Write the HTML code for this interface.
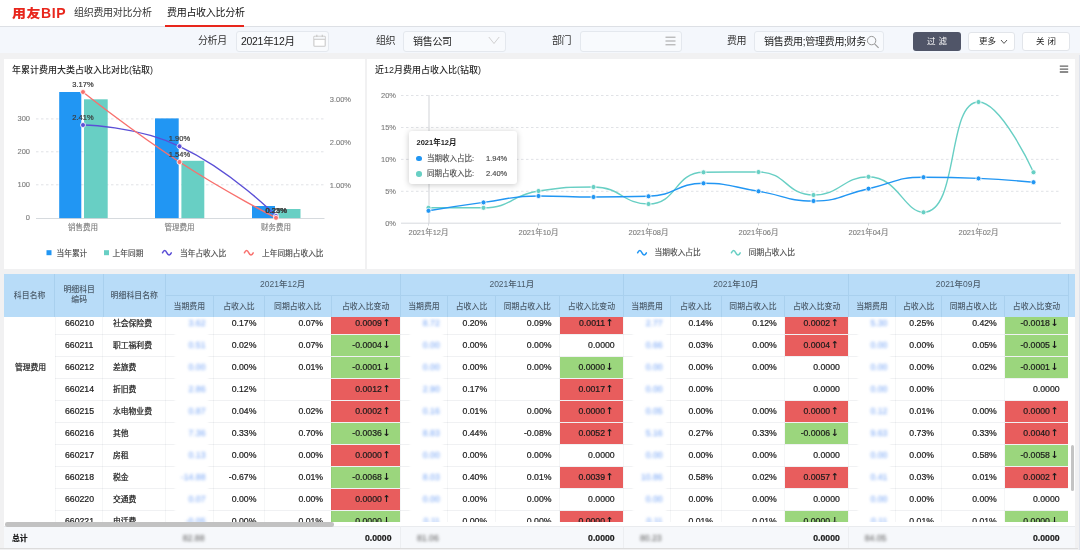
<!DOCTYPE html><html lang="zh"><head><meta charset="utf-8"><title>费用占收入比分析</title><style>
*{box-sizing:border-box;margin:0;padding:0}
html,body{width:1080px;height:550px;overflow:hidden;background:#f1f1f2;font-family:"Liberation Sans","Noto Sans CJK SC",sans-serif;color:#333}
.abs{position:absolute}
#top{left:0;top:0;width:1080px;height:26.6px;background:#fff;border-bottom:1px solid #dde0e5}
#logo{left:12px;top:3px;font-size:14px;font-weight:bold;color:#e8261c;letter-spacing:0.55px;line-height:20px}
.tab{top:4px;font-size:10px;line-height:18px;color:#333;letter-spacing:-0.3px;white-space:nowrap}
#tabline{left:165px;top:25px;width:79px;height:2px;background:#e8261c}
#fbar{left:0;top:26.6px;width:1080px;height:26.7px;background:#f4f7fc}
.flabel{top:32px;font-size:10px;line-height:18px;color:#333;letter-spacing:-0.4px;white-space:nowrap}
.finput{top:31px;height:20.6px;background:#f8fafd;border:1px solid #e4e8ee;border-radius:3px;font-size:10px;line-height:19.6px;color:#222;white-space:nowrap;overflow:hidden;letter-spacing:-0.3px}
.btn{top:32.2px;height:18.8px;border-radius:3px;font-size:8.5px;line-height:18px;text-align:center;white-space:nowrap}
.panel{background:#fff}
.ptitle{font-size:9px;font-weight:500;color:#2a2a2a;line-height:12px;white-space:nowrap}
svg text{font-family:"Liberation Sans","Noto Sans CJK SC",sans-serif;font-size:7.5px}
.ax{fill:#7d7d7d;stroke:#7d7d7d;stroke-width:.12px}
.lb{fill:#3c3c3c;stroke:#3c3c3c;stroke-width:.22px}
.lg{fill:#4a4a4a;stroke:#4a4a4a;stroke-width:.15px;font-size:7.7px}
#tbl{left:4.3px;top:273.5px;width:1070.7px;height:274.8px;background:#fff;overflow:hidden}
.th{position:absolute;z-index:5;background:#b8dcf8;color:#4c5c6b;font-size:7.9px;font-weight:500;text-align:center;white-space:nowrap;border-right:1px solid #a9d0ee;}
.td{position:absolute;font-size:8.7px;color:#1c1c1c;-webkit-text-stroke:0.22px;white-space:nowrap;line-height:22px;height:22px}
.num{text-align:right}
.blur{color:#6fa0f5;filter:blur(1.8px);text-align:right;-webkit-text-stroke:0}
.cj{font-size:7.8px;margin-top:1px}
.ar{font-family:'DejaVu Sans',sans-serif;font-weight:bold;font-size:9.5px;-webkit-text-stroke:0;line-height:1px;margin-left:-1.6px;position:relative;top:0.3px}
.hl{position:absolute;height:1px;background:#f0f1f3}
</style></head><body>
<div id="top" class="abs"></div>
<div id="logo" class="abs"><span style="display:inline-block;transform:scaleY(0.86);transform-origin:50% 58%;font-weight:900">用友</span>BIP</div>
<div class="tab abs" style="left:74px">组织费用对比分析</div>
<div class="tab abs" style="left:167px;color:#111">费用占收入比分析</div>
<div id="tabline" class="abs"></div>
<div id="fbar" class="abs"></div>
<div class="flabel abs" style="left:198px">分析月</div>
<div class="finput abs" style="left:236px;width:93.4px;padding-left:4px;font-size:10.5px">2021年12月</div>
<svg class="abs" style="left:312px;top:33px" width="16" height="16" viewBox="0 0 16 16"><rect x="1.9" y="3.3" width="11.3" height="10" rx="0.8" fill="#fff" stroke="#c9c9c9" stroke-width="1.1"/><rect x="2.4" y="3.8" width="10.3" height="2.4" fill="#f6f8fb"/><line x1="1.9" y1="6.3" x2="13.2" y2="6.3" stroke="#c9c9c9" stroke-width="1"/><line x1="4.8" y1="1.7" x2="4.8" y2="4" stroke="#c9c9c9" stroke-width="1.2"/><line x1="10.3" y1="1.7" x2="10.3" y2="4" stroke="#c9c9c9" stroke-width="1.2"/></svg>
<div class="flabel abs" style="left:376px">组织</div>
<div class="finput abs" style="left:403px;width:103px;padding-left:9px">销售公司</div>
<svg class="abs" style="left:488px;top:36px" width="12" height="9" viewBox="0 0 12 9"><path d="M0.8 1 L6 7.5 L11.2 1" fill="none" stroke="#ccc" stroke-width="0.9"/></svg>
<div class="flabel abs" style="left:552px">部门</div>
<div class="finput abs" style="left:580px;width:102px"></div>
<svg class="abs" style="left:665px;top:36px" width="11" height="10" viewBox="0 0 11 10"><path d="M0.5 1.2H10.5M0.5 5H10.5M0.5 8.8H10.5" stroke="#999" stroke-width="0.9"/></svg>
<div class="flabel abs" style="left:727px">费用</div>
<div class="finput abs" style="left:754px;width:130px;padding-left:9px">销售费用;管理费用;财务</div>
<svg class="abs" style="left:866px;top:35px" width="14" height="14" viewBox="0 0 14 14"><circle cx="5.6" cy="5.6" r="4.2" fill="none" stroke="#999" stroke-width="1"/><line x1="8.6" y1="8.8" x2="12.6" y2="12.8" stroke="#999" stroke-width="1.1"/></svg>
<div class="btn abs" style="left:913px;width:48px;background:#505568;color:#fff;letter-spacing:3px;padding-left:3px">过滤</div>
<div class="btn abs" style="left:968px;width:47px;background:#fff;border:1px solid #e2e5ea;color:#222;line-height:16px;text-align:left;padding-left:10px">更多</div>
<svg class="abs" style="left:1000px;top:39px" width="8" height="6" viewBox="0 0 8 6"><path d="M1 1 L4 4.4 L7 1" fill="none" stroke="#444" stroke-width="0.9"/></svg>
<div class="btn abs" style="left:1022px;width:48px;background:#fff;border:1px solid #e2e5ea;color:#222;line-height:16px;letter-spacing:3px;padding-left:3px">关闭</div>
<div class="panel abs" style="left:4px;top:58.6px;width:360.5px;height:210.2px"></div>
<div class="panel abs" style="left:367.3px;top:58.6px;width:708.2px;height:210.2px"></div>
<div class="ptitle abs" style="left:12px;top:63.8px">年累计费用大类占收入比对比(钻取)</div>
<div class="ptitle abs" style="left:375px;top:63.8px">近12月费用占收入比(钻取)</div>
<svg class="abs" style="left:0;top:0" width="1080" height="275" viewBox="0 0 1080 275">
<line x1="36" y1="118.9" x2="324.5" y2="118.9" stroke="#dcdfe3" stroke-width="0.9" stroke-dasharray="2.5 2.5"/>
<line x1="36" y1="151.8" x2="324.5" y2="151.8" stroke="#dcdfe3" stroke-width="0.9" stroke-dasharray="2.5 2.5"/>
<line x1="36" y1="184.8" x2="324.5" y2="184.8" stroke="#dcdfe3" stroke-width="0.9" stroke-dasharray="2.5 2.5"/>
<text x="30" y="121.1" class="ax" text-anchor="end">300</text>
<text x="30" y="154.10000000000002" class="ax" text-anchor="end">200</text>
<text x="30" y="187.20000000000002" class="ax" text-anchor="end">100</text>
<text x="30" y="220.4" class="ax" text-anchor="end">0</text>
<text x="351" y="102.1" class="ax" text-anchor="end">3.00%</text>
<text x="351" y="144.70000000000002" class="ax" text-anchor="end">2.00%</text>
<text x="351" y="187.70000000000002" class="ax" text-anchor="end">1.00%</text>
<rect x="59.2" y="92" width="22.1" height="126.5" fill="#2196f3"/>
<rect x="84" y="99.3" width="23.7" height="119.2" fill="#68cfc4"/>
<rect x="155" y="118.4" width="23.7" height="100.1" fill="#2196f3"/>
<rect x="181.4" y="160.8" width="22.9" height="57.7" fill="#68cfc4"/>
<rect x="252" y="206" width="23.0" height="12.5" fill="#2196f3"/>
<rect x="277.6" y="209" width="22.9" height="9.5" fill="#68cfc4"/>
<line x1="36" y1="218.5" x2="324.5" y2="218.5" stroke="#ccd0d6" stroke-width="0.8"/>
<text x="83" y="230" class="ax" text-anchor="middle">销售费用</text>
<text x="179.5" y="230" class="ax" text-anchor="middle">管理费用</text>
<text x="276" y="230" class="ax" text-anchor="middle">财务费用</text>
<path d="M83.00 125.00 C83.00 125.00,135.73 125.66,179.50 146.30 C232.23 171.16,276.00 216.00,276.00 216.00" fill="none" stroke="#5b4fd6" stroke-width="1.4"/>
<path d="M83.00 92.00 C83.00 92.00,129.63 129.49,179.50 162.00 C226.13 192.39,276.00 217.80,276.00 217.80" fill="none" stroke="#f8706d" stroke-width="1.4"/>
<circle cx="83" cy="125" r="2.5" fill="#5b4fd6" stroke="#fff" stroke-width="0.8"/>
<circle cx="179.5" cy="146.3" r="2.5" fill="#5b4fd6" stroke="#fff" stroke-width="0.8"/>
<circle cx="276" cy="216" r="2.5" fill="#5b4fd6" stroke="#fff" stroke-width="0.8"/>
<circle cx="83" cy="92" r="2.5" fill="#f8706d" stroke="#fff" stroke-width="0.8"/>
<circle cx="179.5" cy="162" r="2.5" fill="#f8706d" stroke="#fff" stroke-width="0.8"/>
<circle cx="276" cy="217.8" r="2.5" fill="#f8706d" stroke="#fff" stroke-width="0.8"/>
<text x="83" y="87" class="lb" text-anchor="middle">3.17%</text>
<text x="83" y="119.8" class="lb" text-anchor="middle">2.41%</text>
<text x="179.5" y="141.3" class="lb" text-anchor="middle">1.90%</text>
<text x="179.5" y="156.8" class="lb" text-anchor="middle">1.54%</text>
<text x="276" y="212.8" class="lb" text-anchor="middle">0.23%</text>
<text x="276.5" y="212.8" class="lb" text-anchor="middle">0.25%</text>
<rect x="46.5" y="250.20000000000002" width="5" height="5" fill="#2196f3"/><text x="56.5" y="255.60000000000002" class="lg">当年累计</text>
<rect x="104" y="250.20000000000002" width="5" height="5" fill="#68cfc4"/><text x="112.6" y="255.60000000000002" class="lg">上年同期</text>
<path d="M162.5 252.8 q2.2 -4.4 4.4 0 t4.4 0" fill="none" stroke="#5b4fd6" stroke-width="1.5" stroke-linecap="round"/><text x="180" y="255.60000000000002" class="lg">当年占收入比</text>
<path d="M244.4 252.8 q2.2 -4.4 4.4 0 t4.4 0" fill="none" stroke="#f8706d" stroke-width="1.5" stroke-linecap="round"/><text x="262" y="255.60000000000002" class="lg">上年同期占收入比</text>
<line x1="401" y1="95.5" x2="1061" y2="95.5" stroke="#dcdfe3" stroke-width="0.9" stroke-dasharray="2.5 2.5"/>
<line x1="401" y1="127.5" x2="1061" y2="127.5" stroke="#dcdfe3" stroke-width="0.9" stroke-dasharray="2.5 2.5"/>
<line x1="401" y1="159.4" x2="1061" y2="159.4" stroke="#dcdfe3" stroke-width="0.9" stroke-dasharray="2.5 2.5"/>
<line x1="401" y1="191.3" x2="1061" y2="191.3" stroke="#dcdfe3" stroke-width="0.9" stroke-dasharray="2.5 2.5"/>
<text x="396" y="98.3" class="ax" text-anchor="end">20%</text>
<text x="396" y="130.3" class="ax" text-anchor="end">15%</text>
<text x="396" y="162.20000000000002" class="ax" text-anchor="end">10%</text>
<text x="396" y="194.10000000000002" class="ax" text-anchor="end">5%</text>
<text x="396" y="226.0" class="ax" text-anchor="end">0%</text>
<line x1="401" y1="223.2" x2="1061" y2="223.2" stroke="#ccd0d6" stroke-width="0.8"/>
<line x1="428.5" y1="223.2" x2="428.5" y2="225.7" stroke="#ccd0d6" stroke-width="0.8"/>
<text x="428.5" y="235" class="ax" text-anchor="middle">2021年12月</text>
<line x1="538.5" y1="223.2" x2="538.5" y2="225.7" stroke="#ccd0d6" stroke-width="0.8"/>
<text x="538.5" y="235" class="ax" text-anchor="middle">2021年10月</text>
<line x1="648.5" y1="223.2" x2="648.5" y2="225.7" stroke="#ccd0d6" stroke-width="0.8"/>
<text x="648.5" y="235" class="ax" text-anchor="middle">2021年08月</text>
<line x1="758.5" y1="223.2" x2="758.5" y2="225.7" stroke="#ccd0d6" stroke-width="0.8"/>
<text x="758.5" y="235" class="ax" text-anchor="middle">2021年06月</text>
<line x1="868.5" y1="223.2" x2="868.5" y2="225.7" stroke="#ccd0d6" stroke-width="0.8"/>
<text x="868.5" y="235" class="ax" text-anchor="middle">2021年04月</text>
<line x1="978.5" y1="223.2" x2="978.5" y2="225.7" stroke="#ccd0d6" stroke-width="0.8"/>
<text x="978.5" y="235" class="ax" text-anchor="middle">2021年02月</text>
<line x1="429" y1="95" x2="429" y2="223.2" stroke="#d9dbde" stroke-width="1.2"/>
<path d="M428.50 207.80 C428.50 207.80,456.61 207.80,483.50 207.80 C511.61 207.80,510.42 195.17,538.50 191.00 C565.42 187.00,566.59 187.00,593.50 187.00 C621.59 187.00,622.34 204.00,648.50 204.00 C677.34 204.00,674.03 172.65,703.50 172.30 C729.03 172.00,732.11 172.00,758.50 172.00 C787.11 172.00,785.61 195.00,813.50 195.00 C840.61 195.00,842.68 176.80,868.50 176.80 C897.68 176.80,904.42 212.30,923.50 212.30 C959.42 212.30,946.60 102.00,978.50 102.00 C1001.60 102.00,1033.50 172.30,1033.50 172.30" fill="none" stroke="#68cfc4" stroke-width="1.4"/>
<path d="M428.50 210.80 C428.50 210.80,455.93 206.11,483.50 202.40 C510.93 198.71,510.91 196.00,538.50 196.00 C565.91 196.00,566.00 197.00,593.50 197.00 C621.00 197.00,621.37 197.00,648.50 196.30 C676.37 195.58,675.77 183.30,703.50 183.30 C730.77 183.30,731.07 186.89,758.50 191.30 C786.07 195.74,786.12 201.00,813.50 201.00 C841.12 201.00,840.96 194.66,868.50 188.70 C895.96 182.76,895.71 177.20,923.50 177.20 C950.71 177.20,951.03 177.20,978.50 178.40 C1006.03 179.60,1033.50 182.20,1033.50 182.20" fill="none" stroke="#2196f3" stroke-width="1.4"/>
<circle cx="428.5" cy="207.8" r="2.5" fill="#68cfc4" stroke="#fff" stroke-width="0.8"/>
<circle cx="483.5" cy="207.8" r="2.5" fill="#68cfc4" stroke="#fff" stroke-width="0.8"/>
<circle cx="538.5" cy="191" r="2.5" fill="#68cfc4" stroke="#fff" stroke-width="0.8"/>
<circle cx="593.5" cy="187" r="2.5" fill="#68cfc4" stroke="#fff" stroke-width="0.8"/>
<circle cx="648.5" cy="204" r="2.5" fill="#68cfc4" stroke="#fff" stroke-width="0.8"/>
<circle cx="703.5" cy="172.3" r="2.5" fill="#68cfc4" stroke="#fff" stroke-width="0.8"/>
<circle cx="758.5" cy="172" r="2.5" fill="#68cfc4" stroke="#fff" stroke-width="0.8"/>
<circle cx="813.5" cy="195" r="2.5" fill="#68cfc4" stroke="#fff" stroke-width="0.8"/>
<circle cx="868.5" cy="176.8" r="2.5" fill="#68cfc4" stroke="#fff" stroke-width="0.8"/>
<circle cx="923.5" cy="212.3" r="2.5" fill="#68cfc4" stroke="#fff" stroke-width="0.8"/>
<circle cx="978.5" cy="102" r="2.5" fill="#68cfc4" stroke="#fff" stroke-width="0.8"/>
<circle cx="1033.5" cy="172.3" r="2.5" fill="#68cfc4" stroke="#fff" stroke-width="0.8"/>
<circle cx="428.5" cy="210.8" r="2.5" fill="#2196f3" stroke="#fff" stroke-width="0.8"/>
<circle cx="483.5" cy="202.4" r="2.5" fill="#2196f3" stroke="#fff" stroke-width="0.8"/>
<circle cx="538.5" cy="196" r="2.5" fill="#2196f3" stroke="#fff" stroke-width="0.8"/>
<circle cx="593.5" cy="197" r="2.5" fill="#2196f3" stroke="#fff" stroke-width="0.8"/>
<circle cx="648.5" cy="196.3" r="2.5" fill="#2196f3" stroke="#fff" stroke-width="0.8"/>
<circle cx="703.5" cy="183.3" r="2.5" fill="#2196f3" stroke="#fff" stroke-width="0.8"/>
<circle cx="758.5" cy="191.3" r="2.5" fill="#2196f3" stroke="#fff" stroke-width="0.8"/>
<circle cx="813.5" cy="201" r="2.5" fill="#2196f3" stroke="#fff" stroke-width="0.8"/>
<circle cx="868.5" cy="188.7" r="2.5" fill="#2196f3" stroke="#fff" stroke-width="0.8"/>
<circle cx="923.5" cy="177.2" r="2.5" fill="#2196f3" stroke="#fff" stroke-width="0.8"/>
<circle cx="978.5" cy="178.4" r="2.5" fill="#2196f3" stroke="#fff" stroke-width="0.8"/>
<circle cx="1033.5" cy="182.2" r="2.5" fill="#2196f3" stroke="#fff" stroke-width="0.8"/>
<path d="M637.6 252.8 q2.2 -4.4 4.4 0 t4.4 0" fill="none" stroke="#2196f3" stroke-width="1.5" stroke-linecap="round"/><text x="654.6" y="255.4" class="lg">当期收入占比</text>
<path d="M731.4 252.8 q2.2 -4.4 4.4 0 t4.4 0" fill="none" stroke="#68cfc4" stroke-width="1.5" stroke-linecap="round"/><text x="748.8" y="255.4" class="lg">同期占收入比</text>
<path d="M1059.8 66.2H1068.2M1059.8 69.1H1068.2M1059.8 72H1068.2" stroke="#666" stroke-width="1.3"/>
</svg>
<div class="abs" style="left:409px;top:131px;width:107.5px;height:53px;background:#fff;border-radius:3px;box-shadow:0 1px 6px rgba(0,0,0,.22)"></div>
<div class="abs" style="left:416.5px;top:138.2px;font-size:7.5px;font-weight:bold;color:#222;line-height:10px;white-space:nowrap">2021年12月</div>
<div class="abs" style="left:416.3px;top:155.8px;width:5.6px;height:5.6px;border-radius:50%;background:#2196f3"></div>
<div class="abs" style="left:427px;top:153.6px;font-size:7.5px;color:#4a4a4a;-webkit-text-stroke:.15px;line-height:10px;white-space:nowrap">当期收入占比:</div>
<div class="abs" style="left:486px;top:153.6px;font-size:7.5px;color:#4a4a4a;-webkit-text-stroke:.15px;line-height:10px;white-space:nowrap">1.94%</div>
<div class="abs" style="left:416.3px;top:171.0px;width:5.6px;height:5.6px;border-radius:50%;background:#68cfc4"></div>
<div class="abs" style="left:427px;top:168.8px;font-size:7.5px;color:#4a4a4a;-webkit-text-stroke:.15px;line-height:10px;white-space:nowrap">同期占收入比:</div>
<div class="abs" style="left:486px;top:168.8px;font-size:7.5px;color:#4a4a4a;-webkit-text-stroke:.15px;line-height:10px;white-space:nowrap">2.40%</div>
<div id="tbl" class="abs">
<div class="td" style="left:60.7px;top:38.0px">660210</div>
<div class="td cj" style="left:108.7px;top:38.0px">社会保险费</div>
<div class="abs" style="left:170.9px;width:33.3px;top:38.0px;height:24px;background:#fff;filter:blur(0.8px);z-index:1"></div>
<div class="td blur" style="left:160.89999999999998px;width:40.3px;top:38.0px;z-index:2">3.62</div>
<div class="td num" style="left:209.2px;width:42.9px;top:38.0px">0.17%</div>
<div class="td num" style="left:260.09999999999997px;width:58.7px;top:38.0px">0.07%</div>
<div class="abs" style="left:327.1px;width:68.5px;top:39.3px;height:21.5px;background:#e85d5d;"></div>
<div class="td num" style="left:326.8px;width:69.1px;top:38.0px;padding-right:9.6px;z-index:2">0.0009 <span class="ar">↑</span></div>
<div class="abs" style="left:405.9px;width:32.6px;top:38.0px;height:24px;background:#fff;filter:blur(0.8px);z-index:1"></div>
<div class="td blur" style="left:395.9px;width:39.6px;top:38.0px;z-index:2">8.72</div>
<div class="td num" style="left:443.5px;width:39.4px;top:38.0px">0.20%</div>
<div class="td num" style="left:490.9px;width:56.3px;top:38.0px">0.09%</div>
<div class="abs" style="left:555.5px;width:63.3px;top:39.3px;height:21.5px;background:#e85d5d;"></div>
<div class="td num" style="left:555.2px;width:63.9px;top:38.0px;padding-right:9.6px;z-index:2">0.0011 <span class="ar">↑</span></div>
<div class="abs" style="left:629.1px;width:32.3px;top:38.0px;height:24px;background:#fff;filter:blur(0.8px);z-index:1"></div>
<div class="td blur" style="left:619.1px;width:39.3px;top:38.0px;z-index:2">2.77</div>
<div class="td num" style="left:666.4000000000001px;width:42.4px;top:38.0px">0.14%</div>
<div class="td num" style="left:716.8000000000001px;width:55.7px;top:38.0px">0.12%</div>
<div class="abs" style="left:780.8px;width:63.1px;top:39.3px;height:21.5px;background:#e85d5d;"></div>
<div class="td num" style="left:780.5px;width:63.7px;top:38.0px;padding-right:9.6px;z-index:2">0.0002 <span class="ar">↑</span></div>
<div class="abs" style="left:854.2px;width:31.9px;top:38.0px;height:24px;background:#fff;filter:blur(0.8px);z-index:1"></div>
<div class="td blur" style="left:844.2px;width:38.9px;top:38.0px;z-index:2">5.30</div>
<div class="td num" style="left:891.1px;width:38.6px;top:38.0px">0.25%</div>
<div class="td num" style="left:937.7px;width:54.8px;top:38.0px">0.42%</div>
<div class="abs" style="left:1000.8px;width:62.9px;top:39.3px;height:21.5px;background:#9bd67d;"></div>
<div class="td num" style="left:1000.5px;width:63.5px;top:38.0px;padding-right:9.6px;z-index:2">-0.0018 <span class="ar">↓</span></div>
<div class="td" style="left:60.7px;top:60.0px">660211</div>
<div class="td cj" style="left:108.7px;top:60.0px">职工福利费</div>
<div class="abs" style="left:170.9px;width:33.3px;top:60.0px;height:24px;background:#fff;filter:blur(0.8px);z-index:1"></div>
<div class="td blur" style="left:160.89999999999998px;width:40.3px;top:60.0px;z-index:2">0.51</div>
<div class="td num" style="left:209.2px;width:42.9px;top:60.0px">0.02%</div>
<div class="td num" style="left:260.09999999999997px;width:58.7px;top:60.0px">0.07%</div>
<div class="abs" style="left:327.1px;width:68.5px;top:61.3px;height:21.5px;background:#9bd67d;"></div>
<div class="td num" style="left:326.8px;width:69.1px;top:60.0px;padding-right:9.6px;z-index:2">-0.0004 <span class="ar">↓</span></div>
<div class="abs" style="left:405.9px;width:32.6px;top:60.0px;height:24px;background:#fff;filter:blur(0.8px);z-index:1"></div>
<div class="td blur" style="left:395.9px;width:39.6px;top:60.0px;z-index:2">0.00</div>
<div class="td num" style="left:443.5px;width:39.4px;top:60.0px">0.00%</div>
<div class="td num" style="left:490.9px;width:56.3px;top:60.0px">0.00%</div>
<div class="td num" style="left:555.2px;width:63.9px;top:60.0px;padding-right:8.7px;z-index:2">0.0000</div>
<div class="abs" style="left:629.1px;width:32.3px;top:60.0px;height:24px;background:#fff;filter:blur(0.8px);z-index:1"></div>
<div class="td blur" style="left:619.1px;width:39.3px;top:60.0px;z-index:2">0.66</div>
<div class="td num" style="left:666.4000000000001px;width:42.4px;top:60.0px">0.03%</div>
<div class="td num" style="left:716.8000000000001px;width:55.7px;top:60.0px">0.00%</div>
<div class="abs" style="left:780.8px;width:63.1px;top:61.3px;height:21.5px;background:#e85d5d;"></div>
<div class="td num" style="left:780.5px;width:63.7px;top:60.0px;padding-right:9.6px;z-index:2">0.0004 <span class="ar">↑</span></div>
<div class="abs" style="left:854.2px;width:31.9px;top:60.0px;height:24px;background:#fff;filter:blur(0.8px);z-index:1"></div>
<div class="td blur" style="left:844.2px;width:38.9px;top:60.0px;z-index:2">0.00</div>
<div class="td num" style="left:891.1px;width:38.6px;top:60.0px">0.00%</div>
<div class="td num" style="left:937.7px;width:54.8px;top:60.0px">0.05%</div>
<div class="abs" style="left:1000.8px;width:62.9px;top:61.3px;height:21.5px;background:#9bd67d;"></div>
<div class="td num" style="left:1000.5px;width:63.5px;top:60.0px;padding-right:9.6px;z-index:2">-0.0005 <span class="ar">↓</span></div>
<div class="td" style="left:60.7px;top:82.0px">660212</div>
<div class="td cj" style="left:108.7px;top:82.0px">差旅费</div>
<div class="abs" style="left:170.9px;width:33.3px;top:82.0px;height:24px;background:#fff;filter:blur(0.8px);z-index:1"></div>
<div class="td blur" style="left:160.89999999999998px;width:40.3px;top:82.0px;z-index:2">0.00</div>
<div class="td num" style="left:209.2px;width:42.9px;top:82.0px">0.00%</div>
<div class="td num" style="left:260.09999999999997px;width:58.7px;top:82.0px">0.01%</div>
<div class="abs" style="left:327.1px;width:68.5px;top:83.3px;height:21.5px;background:#9bd67d;"></div>
<div class="td num" style="left:326.8px;width:69.1px;top:82.0px;padding-right:9.6px;z-index:2">-0.0001 <span class="ar">↓</span></div>
<div class="abs" style="left:405.9px;width:32.6px;top:82.0px;height:24px;background:#fff;filter:blur(0.8px);z-index:1"></div>
<div class="td blur" style="left:395.9px;width:39.6px;top:82.0px;z-index:2">0.00</div>
<div class="td num" style="left:443.5px;width:39.4px;top:82.0px">0.00%</div>
<div class="td num" style="left:490.9px;width:56.3px;top:82.0px">0.00%</div>
<div class="abs" style="left:555.5px;width:63.3px;top:83.3px;height:21.5px;background:#9bd67d;"></div>
<div class="td num" style="left:555.2px;width:63.9px;top:82.0px;padding-right:9.6px;z-index:2">0.0000 <span class="ar">↓</span></div>
<div class="abs" style="left:629.1px;width:32.3px;top:82.0px;height:24px;background:#fff;filter:blur(0.8px);z-index:1"></div>
<div class="td blur" style="left:619.1px;width:39.3px;top:82.0px;z-index:2">0.00</div>
<div class="td num" style="left:666.4000000000001px;width:42.4px;top:82.0px">0.00%</div>
<div class="td num" style="left:716.8000000000001px;width:55.7px;top:82.0px">0.00%</div>
<div class="td num" style="left:780.5px;width:63.7px;top:82.0px;padding-right:8.7px;z-index:2">0.0000</div>
<div class="abs" style="left:854.2px;width:31.9px;top:82.0px;height:24px;background:#fff;filter:blur(0.8px);z-index:1"></div>
<div class="td blur" style="left:844.2px;width:38.9px;top:82.0px;z-index:2">0.00</div>
<div class="td num" style="left:891.1px;width:38.6px;top:82.0px">0.00%</div>
<div class="td num" style="left:937.7px;width:54.8px;top:82.0px">0.02%</div>
<div class="abs" style="left:1000.8px;width:62.9px;top:83.3px;height:21.5px;background:#9bd67d;"></div>
<div class="td num" style="left:1000.5px;width:63.5px;top:82.0px;padding-right:9.6px;z-index:2">-0.0001 <span class="ar">↓</span></div>
<div class="td" style="left:60.7px;top:104.0px">660214</div>
<div class="td cj" style="left:108.7px;top:104.0px">折旧费</div>
<div class="abs" style="left:170.9px;width:33.3px;top:104.0px;height:24px;background:#fff;filter:blur(0.8px);z-index:1"></div>
<div class="td blur" style="left:160.89999999999998px;width:40.3px;top:104.0px;z-index:2">2.86</div>
<div class="td num" style="left:209.2px;width:42.9px;top:104.0px">0.12%</div>
<div class="abs" style="left:327.1px;width:68.5px;top:105.3px;height:21.5px;background:#e85d5d;"></div>
<div class="td num" style="left:326.8px;width:69.1px;top:104.0px;padding-right:9.6px;z-index:2">0.0012 <span class="ar">↑</span></div>
<div class="abs" style="left:405.9px;width:32.6px;top:104.0px;height:24px;background:#fff;filter:blur(0.8px);z-index:1"></div>
<div class="td blur" style="left:395.9px;width:39.6px;top:104.0px;z-index:2">2.90</div>
<div class="td num" style="left:443.5px;width:39.4px;top:104.0px">0.17%</div>
<div class="abs" style="left:555.5px;width:63.3px;top:105.3px;height:21.5px;background:#e85d5d;"></div>
<div class="td num" style="left:555.2px;width:63.9px;top:104.0px;padding-right:9.6px;z-index:2">0.0017 <span class="ar">↑</span></div>
<div class="abs" style="left:629.1px;width:32.3px;top:104.0px;height:24px;background:#fff;filter:blur(0.8px);z-index:1"></div>
<div class="td blur" style="left:619.1px;width:39.3px;top:104.0px;z-index:2">0.00</div>
<div class="td num" style="left:666.4000000000001px;width:42.4px;top:104.0px">0.00%</div>
<div class="td num" style="left:780.5px;width:63.7px;top:104.0px;padding-right:8.7px;z-index:2">0.0000</div>
<div class="abs" style="left:854.2px;width:31.9px;top:104.0px;height:24px;background:#fff;filter:blur(0.8px);z-index:1"></div>
<div class="td blur" style="left:844.2px;width:38.9px;top:104.0px;z-index:2">0.00</div>
<div class="td num" style="left:891.1px;width:38.6px;top:104.0px">0.00%</div>
<div class="td num" style="left:1000.5px;width:63.5px;top:104.0px;padding-right:8.7px;z-index:2">0.0000</div>
<div class="td" style="left:60.7px;top:126.0px">660215</div>
<div class="td cj" style="left:108.7px;top:126.0px">水电物业费</div>
<div class="abs" style="left:170.9px;width:33.3px;top:126.0px;height:24px;background:#fff;filter:blur(0.8px);z-index:1"></div>
<div class="td blur" style="left:160.89999999999998px;width:40.3px;top:126.0px;z-index:2">0.87</div>
<div class="td num" style="left:209.2px;width:42.9px;top:126.0px">0.04%</div>
<div class="td num" style="left:260.09999999999997px;width:58.7px;top:126.0px">0.02%</div>
<div class="abs" style="left:327.1px;width:68.5px;top:127.3px;height:21.5px;background:#e85d5d;"></div>
<div class="td num" style="left:326.8px;width:69.1px;top:126.0px;padding-right:9.6px;z-index:2">0.0002 <span class="ar">↑</span></div>
<div class="abs" style="left:405.9px;width:32.6px;top:126.0px;height:24px;background:#fff;filter:blur(0.8px);z-index:1"></div>
<div class="td blur" style="left:395.9px;width:39.6px;top:126.0px;z-index:2">0.16</div>
<div class="td num" style="left:443.5px;width:39.4px;top:126.0px">0.01%</div>
<div class="td num" style="left:490.9px;width:56.3px;top:126.0px">0.00%</div>
<div class="abs" style="left:555.5px;width:63.3px;top:127.3px;height:21.5px;background:#e85d5d;"></div>
<div class="td num" style="left:555.2px;width:63.9px;top:126.0px;padding-right:9.6px;z-index:2">0.0000 <span class="ar">↑</span></div>
<div class="abs" style="left:629.1px;width:32.3px;top:126.0px;height:24px;background:#fff;filter:blur(0.8px);z-index:1"></div>
<div class="td blur" style="left:619.1px;width:39.3px;top:126.0px;z-index:2">0.05</div>
<div class="td num" style="left:666.4000000000001px;width:42.4px;top:126.0px">0.00%</div>
<div class="td num" style="left:716.8000000000001px;width:55.7px;top:126.0px">0.00%</div>
<div class="abs" style="left:780.8px;width:63.1px;top:127.3px;height:21.5px;background:#e85d5d;"></div>
<div class="td num" style="left:780.5px;width:63.7px;top:126.0px;padding-right:9.6px;z-index:2">0.0000 <span class="ar">↑</span></div>
<div class="abs" style="left:854.2px;width:31.9px;top:126.0px;height:24px;background:#fff;filter:blur(0.8px);z-index:1"></div>
<div class="td blur" style="left:844.2px;width:38.9px;top:126.0px;z-index:2">0.12</div>
<div class="td num" style="left:891.1px;width:38.6px;top:126.0px">0.01%</div>
<div class="td num" style="left:937.7px;width:54.8px;top:126.0px">0.00%</div>
<div class="abs" style="left:1000.8px;width:62.9px;top:127.3px;height:21.5px;background:#e85d5d;"></div>
<div class="td num" style="left:1000.5px;width:63.5px;top:126.0px;padding-right:9.6px;z-index:2">0.0000 <span class="ar">↑</span></div>
<div class="td" style="left:60.7px;top:148.0px">660216</div>
<div class="td cj" style="left:108.7px;top:148.0px">其他</div>
<div class="abs" style="left:170.9px;width:33.3px;top:148.0px;height:24px;background:#fff;filter:blur(0.8px);z-index:1"></div>
<div class="td blur" style="left:160.89999999999998px;width:40.3px;top:148.0px;z-index:2">7.36</div>
<div class="td num" style="left:209.2px;width:42.9px;top:148.0px">0.33%</div>
<div class="td num" style="left:260.09999999999997px;width:58.7px;top:148.0px">0.70%</div>
<div class="abs" style="left:327.1px;width:68.5px;top:149.3px;height:21.5px;background:#9bd67d;"></div>
<div class="td num" style="left:326.8px;width:69.1px;top:148.0px;padding-right:9.6px;z-index:2">-0.0036 <span class="ar">↓</span></div>
<div class="abs" style="left:405.9px;width:32.6px;top:148.0px;height:24px;background:#fff;filter:blur(0.8px);z-index:1"></div>
<div class="td blur" style="left:395.9px;width:39.6px;top:148.0px;z-index:2">8.83</div>
<div class="td num" style="left:443.5px;width:39.4px;top:148.0px">0.44%</div>
<div class="td num" style="left:490.9px;width:56.3px;top:148.0px">-0.08%</div>
<div class="abs" style="left:555.5px;width:63.3px;top:149.3px;height:21.5px;background:#e85d5d;"></div>
<div class="td num" style="left:555.2px;width:63.9px;top:148.0px;padding-right:9.6px;z-index:2">0.0052 <span class="ar">↑</span></div>
<div class="abs" style="left:629.1px;width:32.3px;top:148.0px;height:24px;background:#fff;filter:blur(0.8px);z-index:1"></div>
<div class="td blur" style="left:619.1px;width:39.3px;top:148.0px;z-index:2">5.16</div>
<div class="td num" style="left:666.4000000000001px;width:42.4px;top:148.0px">0.27%</div>
<div class="td num" style="left:716.8000000000001px;width:55.7px;top:148.0px">0.33%</div>
<div class="abs" style="left:780.8px;width:63.1px;top:149.3px;height:21.5px;background:#9bd67d;"></div>
<div class="td num" style="left:780.5px;width:63.7px;top:148.0px;padding-right:9.6px;z-index:2">-0.0006 <span class="ar">↓</span></div>
<div class="abs" style="left:854.2px;width:31.9px;top:148.0px;height:24px;background:#fff;filter:blur(0.8px);z-index:1"></div>
<div class="td blur" style="left:844.2px;width:38.9px;top:148.0px;z-index:2">9.63</div>
<div class="td num" style="left:891.1px;width:38.6px;top:148.0px">0.73%</div>
<div class="td num" style="left:937.7px;width:54.8px;top:148.0px">0.33%</div>
<div class="abs" style="left:1000.8px;width:62.9px;top:149.3px;height:21.5px;background:#e85d5d;"></div>
<div class="td num" style="left:1000.5px;width:63.5px;top:148.0px;padding-right:9.6px;z-index:2">0.0040 <span class="ar">↑</span></div>
<div class="td" style="left:60.7px;top:170.0px">660217</div>
<div class="td cj" style="left:108.7px;top:170.0px">房租</div>
<div class="abs" style="left:170.9px;width:33.3px;top:170.0px;height:24px;background:#fff;filter:blur(0.8px);z-index:1"></div>
<div class="td blur" style="left:160.89999999999998px;width:40.3px;top:170.0px;z-index:2">0.13</div>
<div class="td num" style="left:209.2px;width:42.9px;top:170.0px">0.00%</div>
<div class="td num" style="left:260.09999999999997px;width:58.7px;top:170.0px">0.00%</div>
<div class="abs" style="left:327.1px;width:68.5px;top:171.3px;height:21.5px;background:#e85d5d;"></div>
<div class="td num" style="left:326.8px;width:69.1px;top:170.0px;padding-right:9.6px;z-index:2">0.0000 <span class="ar">↑</span></div>
<div class="abs" style="left:405.9px;width:32.6px;top:170.0px;height:24px;background:#fff;filter:blur(0.8px);z-index:1"></div>
<div class="td blur" style="left:395.9px;width:39.6px;top:170.0px;z-index:2">0.00</div>
<div class="td num" style="left:443.5px;width:39.4px;top:170.0px">0.00%</div>
<div class="td num" style="left:490.9px;width:56.3px;top:170.0px">0.00%</div>
<div class="td num" style="left:555.2px;width:63.9px;top:170.0px;padding-right:8.7px;z-index:2">0.0000</div>
<div class="abs" style="left:629.1px;width:32.3px;top:170.0px;height:24px;background:#fff;filter:blur(0.8px);z-index:1"></div>
<div class="td blur" style="left:619.1px;width:39.3px;top:170.0px;z-index:2">0.00</div>
<div class="td num" style="left:666.4000000000001px;width:42.4px;top:170.0px">0.00%</div>
<div class="td num" style="left:716.8000000000001px;width:55.7px;top:170.0px">0.00%</div>
<div class="td num" style="left:780.5px;width:63.7px;top:170.0px;padding-right:8.7px;z-index:2">0.0000</div>
<div class="abs" style="left:854.2px;width:31.9px;top:170.0px;height:24px;background:#fff;filter:blur(0.8px);z-index:1"></div>
<div class="td blur" style="left:844.2px;width:38.9px;top:170.0px;z-index:2">0.00</div>
<div class="td num" style="left:891.1px;width:38.6px;top:170.0px">0.00%</div>
<div class="td num" style="left:937.7px;width:54.8px;top:170.0px">0.58%</div>
<div class="abs" style="left:1000.8px;width:62.9px;top:171.3px;height:21.5px;background:#9bd67d;"></div>
<div class="td num" style="left:1000.5px;width:63.5px;top:170.0px;padding-right:9.6px;z-index:2">-0.0058 <span class="ar">↓</span></div>
<div class="td" style="left:60.7px;top:192.0px">660218</div>
<div class="td cj" style="left:108.7px;top:192.0px">税金</div>
<div class="abs" style="left:170.9px;width:33.3px;top:192.0px;height:24px;background:#fff;filter:blur(0.8px);z-index:1"></div>
<div class="td blur" style="left:160.89999999999998px;width:40.3px;top:192.0px;z-index:2">-14.88</div>
<div class="td num" style="left:209.2px;width:42.9px;top:192.0px">-0.67%</div>
<div class="td num" style="left:260.09999999999997px;width:58.7px;top:192.0px">0.01%</div>
<div class="abs" style="left:327.1px;width:68.5px;top:193.3px;height:21.5px;background:#9bd67d;"></div>
<div class="td num" style="left:326.8px;width:69.1px;top:192.0px;padding-right:9.6px;z-index:2">-0.0068 <span class="ar">↓</span></div>
<div class="abs" style="left:405.9px;width:32.6px;top:192.0px;height:24px;background:#fff;filter:blur(0.8px);z-index:1"></div>
<div class="td blur" style="left:395.9px;width:39.6px;top:192.0px;z-index:2">8.03</div>
<div class="td num" style="left:443.5px;width:39.4px;top:192.0px">0.40%</div>
<div class="td num" style="left:490.9px;width:56.3px;top:192.0px">0.01%</div>
<div class="abs" style="left:555.5px;width:63.3px;top:193.3px;height:21.5px;background:#e85d5d;"></div>
<div class="td num" style="left:555.2px;width:63.9px;top:192.0px;padding-right:9.6px;z-index:2">0.0039 <span class="ar">↑</span></div>
<div class="abs" style="left:629.1px;width:32.3px;top:192.0px;height:24px;background:#fff;filter:blur(0.8px);z-index:1"></div>
<div class="td blur" style="left:619.1px;width:39.3px;top:192.0px;z-index:2">10.86</div>
<div class="td num" style="left:666.4000000000001px;width:42.4px;top:192.0px">0.58%</div>
<div class="td num" style="left:716.8000000000001px;width:55.7px;top:192.0px">0.02%</div>
<div class="abs" style="left:780.8px;width:63.1px;top:193.3px;height:21.5px;background:#e85d5d;"></div>
<div class="td num" style="left:780.5px;width:63.7px;top:192.0px;padding-right:9.6px;z-index:2">0.0057 <span class="ar">↑</span></div>
<div class="abs" style="left:854.2px;width:31.9px;top:192.0px;height:24px;background:#fff;filter:blur(0.8px);z-index:1"></div>
<div class="td blur" style="left:844.2px;width:38.9px;top:192.0px;z-index:2">0.41</div>
<div class="td num" style="left:891.1px;width:38.6px;top:192.0px">0.03%</div>
<div class="td num" style="left:937.7px;width:54.8px;top:192.0px">0.01%</div>
<div class="abs" style="left:1000.8px;width:62.9px;top:193.3px;height:21.5px;background:#e85d5d;"></div>
<div class="td num" style="left:1000.5px;width:63.5px;top:192.0px;padding-right:9.6px;z-index:2">0.0002 <span class="ar">↑</span></div>
<div class="td" style="left:60.7px;top:214.0px">660220</div>
<div class="td cj" style="left:108.7px;top:214.0px">交通费</div>
<div class="abs" style="left:170.9px;width:33.3px;top:214.0px;height:24px;background:#fff;filter:blur(0.8px);z-index:1"></div>
<div class="td blur" style="left:160.89999999999998px;width:40.3px;top:214.0px;z-index:2">0.07</div>
<div class="td num" style="left:209.2px;width:42.9px;top:214.0px">0.00%</div>
<div class="td num" style="left:260.09999999999997px;width:58.7px;top:214.0px">0.00%</div>
<div class="abs" style="left:327.1px;width:68.5px;top:215.3px;height:21.5px;background:#e85d5d;"></div>
<div class="td num" style="left:326.8px;width:69.1px;top:214.0px;padding-right:9.6px;z-index:2">0.0000 <span class="ar">↑</span></div>
<div class="abs" style="left:405.9px;width:32.6px;top:214.0px;height:24px;background:#fff;filter:blur(0.8px);z-index:1"></div>
<div class="td blur" style="left:395.9px;width:39.6px;top:214.0px;z-index:2">0.00</div>
<div class="td num" style="left:443.5px;width:39.4px;top:214.0px">0.00%</div>
<div class="td num" style="left:490.9px;width:56.3px;top:214.0px">0.00%</div>
<div class="td num" style="left:555.2px;width:63.9px;top:214.0px;padding-right:8.7px;z-index:2">0.0000</div>
<div class="abs" style="left:629.1px;width:32.3px;top:214.0px;height:24px;background:#fff;filter:blur(0.8px);z-index:1"></div>
<div class="td blur" style="left:619.1px;width:39.3px;top:214.0px;z-index:2">0.00</div>
<div class="td num" style="left:666.4000000000001px;width:42.4px;top:214.0px">0.00%</div>
<div class="td num" style="left:716.8000000000001px;width:55.7px;top:214.0px">0.00%</div>
<div class="td num" style="left:780.5px;width:63.7px;top:214.0px;padding-right:8.7px;z-index:2">0.0000</div>
<div class="abs" style="left:854.2px;width:31.9px;top:214.0px;height:24px;background:#fff;filter:blur(0.8px);z-index:1"></div>
<div class="td blur" style="left:844.2px;width:38.9px;top:214.0px;z-index:2">0.00</div>
<div class="td num" style="left:891.1px;width:38.6px;top:214.0px">0.00%</div>
<div class="td num" style="left:937.7px;width:54.8px;top:214.0px">0.00%</div>
<div class="td num" style="left:1000.5px;width:63.5px;top:214.0px;padding-right:8.7px;z-index:2">0.0000</div>
<div class="td" style="left:60.7px;top:236.0px">660221</div>
<div class="td cj" style="left:108.7px;top:236.0px">电话费</div>
<div class="abs" style="left:170.9px;width:33.3px;top:236.0px;height:24px;background:#fff;filter:blur(0.8px);z-index:1"></div>
<div class="td blur" style="left:160.89999999999998px;width:40.3px;top:236.0px;z-index:2">-0.05</div>
<div class="td num" style="left:209.2px;width:42.9px;top:236.0px">0.00%</div>
<div class="td num" style="left:260.09999999999997px;width:58.7px;top:236.0px">0.01%</div>
<div class="abs" style="left:327.1px;width:68.5px;top:237.3px;height:21.5px;background:#9bd67d;"></div>
<div class="td num" style="left:326.8px;width:69.1px;top:236.0px;padding-right:9.6px;z-index:2">0.0000 <span class="ar">↓</span></div>
<div class="abs" style="left:405.9px;width:32.6px;top:236.0px;height:24px;background:#fff;filter:blur(0.8px);z-index:1"></div>
<div class="td blur" style="left:395.9px;width:39.6px;top:236.0px;z-index:2">0.11</div>
<div class="td num" style="left:443.5px;width:39.4px;top:236.0px">0.00%</div>
<div class="td num" style="left:490.9px;width:56.3px;top:236.0px">0.00%</div>
<div class="abs" style="left:555.5px;width:63.3px;top:237.3px;height:21.5px;background:#e85d5d;"></div>
<div class="td num" style="left:555.2px;width:63.9px;top:236.0px;padding-right:9.6px;z-index:2">0.0000 <span class="ar">↑</span></div>
<div class="abs" style="left:629.1px;width:32.3px;top:236.0px;height:24px;background:#fff;filter:blur(0.8px);z-index:1"></div>
<div class="td blur" style="left:619.1px;width:39.3px;top:236.0px;z-index:2">0.11</div>
<div class="td num" style="left:666.4000000000001px;width:42.4px;top:236.0px">0.01%</div>
<div class="td num" style="left:716.8000000000001px;width:55.7px;top:236.0px">0.01%</div>
<div class="abs" style="left:780.8px;width:63.1px;top:237.3px;height:21.5px;background:#9bd67d;"></div>
<div class="td num" style="left:780.5px;width:63.7px;top:236.0px;padding-right:9.6px;z-index:2">0.0000 <span class="ar">↓</span></div>
<div class="abs" style="left:854.2px;width:31.9px;top:236.0px;height:24px;background:#fff;filter:blur(0.8px);z-index:1"></div>
<div class="td blur" style="left:844.2px;width:38.9px;top:236.0px;z-index:2">0.11</div>
<div class="td num" style="left:891.1px;width:38.6px;top:236.0px">0.01%</div>
<div class="td num" style="left:937.7px;width:54.8px;top:236.0px">0.01%</div>
<div class="abs" style="left:1000.8px;width:62.9px;top:237.3px;height:21.5px;background:#9bd67d;"></div>
<div class="td num" style="left:1000.5px;width:63.5px;top:236.0px;padding-right:9.6px;z-index:2">0.0000 <span class="ar">↓</span></div>
<div class="hl" style="left:51.0px;top:60.5px;width:1013.0px;mix-blend-mode:multiply"></div>
<div class="hl" style="left:51.0px;top:82.5px;width:1013.0px;mix-blend-mode:multiply"></div>
<div class="hl" style="left:51.0px;top:104.5px;width:1013.0px;mix-blend-mode:multiply"></div>
<div class="hl" style="left:51.0px;top:126.5px;width:1013.0px;mix-blend-mode:multiply"></div>
<div class="hl" style="left:51.0px;top:148.5px;width:1013.0px;mix-blend-mode:multiply"></div>
<div class="hl" style="left:51.0px;top:170.5px;width:1013.0px;mix-blend-mode:multiply"></div>
<div class="hl" style="left:51.0px;top:192.5px;width:1013.0px;mix-blend-mode:multiply"></div>
<div class="hl" style="left:51.0px;top:214.5px;width:1013.0px;mix-blend-mode:multiply"></div>
<div class="hl" style="left:51.0px;top:236.5px;width:1013.0px;mix-blend-mode:multiply"></div>
<div class="hl" style="left:51.0px;top:258.5px;width:1013.0px;mix-blend-mode:multiply"></div>
<div class="abs" style="left:50.5px;top:43.19999999999999px;width:1px;height:210px;background:#f5f6f7;mix-blend-mode:multiply"></div>
<div class="abs" style="left:98.2px;top:43.19999999999999px;width:1px;height:210px;background:#f5f6f7;mix-blend-mode:multiply"></div>
<div class="abs" style="left:160.39999999999998px;top:43.19999999999999px;width:1px;height:210px;background:#f5f6f7;mix-blend-mode:multiply"></div>
<div class="abs" style="left:208.7px;top:43.19999999999999px;width:1px;height:210px;background:#f5f6f7;mix-blend-mode:multiply"></div>
<div class="abs" style="left:259.59999999999997px;top:43.19999999999999px;width:1px;height:210px;background:#f5f6f7;mix-blend-mode:multiply"></div>
<div class="abs" style="left:326.3px;top:43.19999999999999px;width:1px;height:210px;background:#f5f6f7;mix-blend-mode:multiply"></div>
<div class="abs" style="left:395.4px;top:43.19999999999999px;width:1px;height:210px;background:#f5f6f7;mix-blend-mode:multiply"></div>
<div class="abs" style="left:443.0px;top:43.19999999999999px;width:1px;height:210px;background:#f5f6f7;mix-blend-mode:multiply"></div>
<div class="abs" style="left:490.4px;top:43.19999999999999px;width:1px;height:210px;background:#f5f6f7;mix-blend-mode:multiply"></div>
<div class="abs" style="left:554.7px;top:43.19999999999999px;width:1px;height:210px;background:#f5f6f7;mix-blend-mode:multiply"></div>
<div class="abs" style="left:618.6px;top:43.19999999999999px;width:1px;height:210px;background:#f5f6f7;mix-blend-mode:multiply"></div>
<div class="abs" style="left:665.9000000000001px;top:43.19999999999999px;width:1px;height:210px;background:#f5f6f7;mix-blend-mode:multiply"></div>
<div class="abs" style="left:716.3000000000001px;top:43.19999999999999px;width:1px;height:210px;background:#f5f6f7;mix-blend-mode:multiply"></div>
<div class="abs" style="left:780.0px;top:43.19999999999999px;width:1px;height:210px;background:#f5f6f7;mix-blend-mode:multiply"></div>
<div class="abs" style="left:843.7px;top:43.19999999999999px;width:1px;height:210px;background:#f5f6f7;mix-blend-mode:multiply"></div>
<div class="abs" style="left:890.6px;top:43.19999999999999px;width:1px;height:210px;background:#f5f6f7;mix-blend-mode:multiply"></div>
<div class="abs" style="left:937.2px;top:43.19999999999999px;width:1px;height:210px;background:#f5f6f7;mix-blend-mode:multiply"></div>
<div class="abs" style="left:1000.0px;top:43.19999999999999px;width:1px;height:210px;background:#f5f6f7;mix-blend-mode:multiply"></div>
<div class="abs" style="left:0;top:43.19999999999999px;width:50.5px;height:210px;background:#fff"></div>
<div class="td cj" style="left:10.7px;top:82.0px">管理费用</div>
<div class="th" style="left:0;top:0;width:1071px;height:43.2px;border:0"></div>
<div class="th" style="left:0.5px;top:0;width:50.7px;height:43.2px;line-height:43px;">科目名称</div>
<div class="th" style="left:51.2px;top:0;width:48.4px;height:43.2px;line-height:10.5px;padding-top:11px;">明细科目<br>编码</div>
<div class="th" style="left:99.6px;top:0;width:61.8px;height:43.2px;line-height:43px;">明细科目名称</div>
<div class="th" style="left:161.4px;top:0;width:235.0px;height:22.7px;line-height:21.4px;border-bottom:1px solid #a9d0ee;font-size:8.5px">2021年12月</div>
<div class="th" style="left:161.4px;top:22.7px;width:48.3px;height:20.5px;line-height:21.4px">当期费用</div>
<div class="th" style="left:209.7px;top:22.7px;width:50.9px;height:20.5px;line-height:21.4px">占收入比</div>
<div class="th" style="left:260.6px;top:22.7px;width:66.7px;height:20.5px;line-height:21.4px">同期占收入比</div>
<div class="th" style="left:327.3px;top:22.7px;width:69.1px;height:20.5px;line-height:21.4px">占收入比变动</div>
<div class="th" style="left:396.4px;top:0;width:223.2px;height:22.7px;line-height:21.4px;border-bottom:1px solid #a9d0ee;font-size:8.5px">2021年11月</div>
<div class="th" style="left:396.4px;top:22.7px;width:47.6px;height:20.5px;line-height:21.4px">当期费用</div>
<div class="th" style="left:444.0px;top:22.7px;width:47.4px;height:20.5px;line-height:21.4px">占收入比</div>
<div class="th" style="left:491.4px;top:22.7px;width:64.3px;height:20.5px;line-height:21.4px">同期占收入比</div>
<div class="th" style="left:555.7px;top:22.7px;width:63.9px;height:20.5px;line-height:21.4px">占收入比变动</div>
<div class="th" style="left:619.6px;top:0;width:225.1px;height:22.7px;line-height:21.4px;border-bottom:1px solid #a9d0ee;font-size:8.5px">2021年10月</div>
<div class="th" style="left:619.6px;top:22.7px;width:47.3px;height:20.5px;line-height:21.4px">当期费用</div>
<div class="th" style="left:666.9px;top:22.7px;width:50.4px;height:20.5px;line-height:21.4px">占收入比</div>
<div class="th" style="left:717.3px;top:22.7px;width:63.7px;height:20.5px;line-height:21.4px">同期占收入比</div>
<div class="th" style="left:781.0px;top:22.7px;width:63.7px;height:20.5px;line-height:21.4px">占收入比变动</div>
<div class="th" style="left:844.7px;top:0;width:219.8px;height:22.7px;line-height:21.4px;border-bottom:1px solid #a9d0ee;font-size:8.5px">2021年09月</div>
<div class="th" style="left:844.7px;top:22.7px;width:46.9px;height:20.5px;line-height:21.4px">当期费用</div>
<div class="th" style="left:891.6px;top:22.7px;width:46.6px;height:20.5px;line-height:21.4px">占收入比</div>
<div class="th" style="left:938.2px;top:22.7px;width:62.8px;height:20.5px;line-height:21.4px">同期占收入比</div>
<div class="th" style="left:1001.0px;top:22.7px;width:63.5px;height:20.5px;line-height:21.4px">占收入比变动</div>
<div class="abs" style="z-index:6;left:0;top:252.89999999999998px;width:1071px;height:22px;background:#f6f8fb;border-top:1px solid #e9ebee"></div>
<div class="td cj" style="z-index:7;left:7.7px;top:253.39999999999998px;font-weight:bold">总计</div>
<div class="td blur" style="left:160.89999999999998px;width:39.3px;top:253.39999999999998px;color:#555;filter:blur(1.4px);z-index:7">82.88</div>
<div class="td num" style="left:326.8px;width:69.1px;top:253.39999999999998px;padding-right:8.7px;font-weight:bold;z-index:7">0.0000</div>
<div class="td blur" style="left:395.9px;width:38.6px;top:253.39999999999998px;color:#555;filter:blur(1.4px);z-index:7">81.06</div>
<div class="td num" style="left:555.2px;width:63.9px;top:253.39999999999998px;padding-right:8.7px;font-weight:bold;z-index:7">0.0000</div>
<div class="abs" style="z-index:7;left:395.4px;top:252.89999999999998px;width:1px;height:23px;background:#eceef1"></div>
<div class="td blur" style="left:619.1px;width:38.3px;top:253.39999999999998px;color:#555;filter:blur(1.4px);z-index:7">80.23</div>
<div class="td num" style="left:780.5px;width:63.7px;top:253.39999999999998px;padding-right:8.7px;font-weight:bold;z-index:7">0.0000</div>
<div class="abs" style="z-index:7;left:618.6px;top:252.89999999999998px;width:1px;height:23px;background:#eceef1"></div>
<div class="td blur" style="left:844.2px;width:37.9px;top:253.39999999999998px;color:#555;filter:blur(1.4px);z-index:7">84.05</div>
<div class="td num" style="left:1000.5px;width:63.5px;top:253.39999999999998px;padding-right:8.7px;font-weight:bold;z-index:7">0.0000</div>
<div class="abs" style="z-index:7;left:843.7px;top:252.89999999999998px;width:1px;height:23px;background:#eceef1"></div>
<div class="abs" style="z-index:6;left:0;top:248.2px;width:1071px;height:4.6px;background:#fff"></div>
<div class="abs" style="z-index:8;left:0.5px;top:248.8px;width:329.5px;height:4.3px;border-radius:2.2px;background:#c2c2c2"></div>
<div class="abs" style="z-index:8;left:1067.0px;top:171.5px;width:3px;height:46px;border-radius:2px;background:#c4c4c4"></div>
</div>
<div class="abs" style="left:1078.6px;top:55px;width:1.4px;height:495px;background:#dfe3ec"></div>
<div class="abs" style="left:0;top:548.3px;width:1078px;height:0.9px;background:#dcdcdc"></div>
</body></html>
